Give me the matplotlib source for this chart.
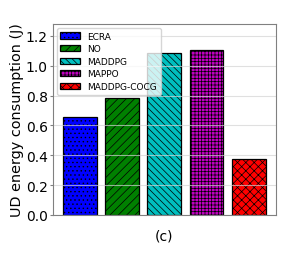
import matplotlib.pyplot as plt
import numpy as np

methods = ['ECRA', 'NO', 'MADDPG', 'MAPPO', 'MADDPG-COCG']
energy = [0.658, 0.781, 1.084, 1.108, 0.377]
colors = ['blue', 'green', 'c', 'm', 'red']
hatches = ['....', '////', '\\' * 5, '+++++', 'xxxx']

plt.rcParams['hatch.linewidth'] = 0.5

fig = plt.figure(figsize=(2.91, 2.55), dpi=100)
ax = fig.add_axes([0.181, 0.153, 0.767, 0.749])

x = np.arange(len(methods))
for i in range(len(methods)):
    ax.bar(x[i], energy[i], width=0.8, color=colors[i], edgecolor='black',
           hatch=hatches[i], label=methods[i], linewidth=0.9)

ax.set_ylim(0, 1.28)
ax.set_xticks([])
ax.set_yticks([0.0, 0.2, 0.4, 0.6, 0.8, 1.0, 1.2])
ax.tick_params(axis='y', labelsize=10, length=2, pad=1.5, color='gray')
ax.set_ylabel('UD energy consumption (J)', fontsize=10.4, labelpad=1)
ax.set_xlabel('(c)', fontsize=10, labelpad=10)
ax.yaxis.grid(True, color='lightgray', alpha=0.7, linewidth=0.8)
for s in ax.spines.values():
    s.set_color('gray')
ax.legend(loc='upper left', fontsize=6.5, borderaxespad=0.45,
          handlelength=2.2, handletextpad=0.8, labelspacing=0.4)

plt.savefig('out.png', dpi=100)
